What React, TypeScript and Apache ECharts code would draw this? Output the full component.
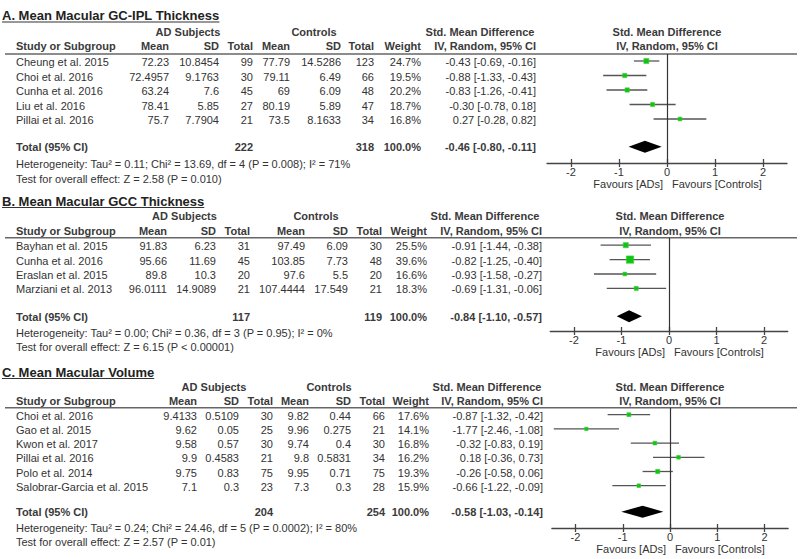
import React, { useEffect, useRef } from "react";
import * as echarts from "echarts";

// ---------- DATA ----------
const tickValues = [-2, -1, 0, 1, 2];
const favourLabels = ["Favours [ADs]", "Favours [Controls]"];

// Panel A
const titleA = "A. Mean Macular GC-IPL Thickness";
const studiesA = ["Cheung et al. 2015", "Choi et al. 2016", "Cunha et al. 2016", "Liu et al. 2016", "Pillai et al. 2016"];
const adMeanA = [72.23, 72.4957, 63.24, 78.41, 75.7];
const adSdA = [10.8454, 9.1763, 7.6, 5.85, 7.7904];
const adNA = [99, 30, 45, 27, 21];
const ctMeanA = [77.79, 79.11, 69, 80.19, 73.5];
const ctSdA = [14.5286, 6.49, 6.09, 5.89, 8.1633];
const ctNA = [123, 66, 48, 47, 34];
const weightA = [24.7, 19.5, 20.2, 18.7, 16.8];
const smdA = [-0.43, -0.88, -0.83, -0.3, 0.27];
const loA = [-0.69, -1.33, -1.26, -0.78, -0.28];
const hiA = [-0.16, -0.43, -0.41, 0.18, 0.82];
const totalNA = [222, 318];
const pooledA = [-0.46, -0.8, -0.11];
const hetA = "Heterogeneity: Tau² = 0.11; Chi² = 13.69, df = 4 (P = 0.008); I² = 71%";
const testA = "Test for overall effect: Z = 2.58 (P = 0.010)";

// Panel B
const titleB = "B. Mean Macular GCC Thickness";
const studiesB = ["Bayhan et al. 2015", "Cunha et al. 2016", "Eraslan et al. 2015", "Marziani et al. 2013"];
const adMeanB = [91.83, 95.66, 89.8, 96.0111];
const adSdB = [6.23, 11.69, 10.3, 14.9089];
const adNB = [31, 45, 20, 21];
const ctMeanB = [97.49, 103.85, 97.6, 107.4444];
const ctSdB = [6.09, 7.73, 5.5, 17.549];
const ctNB = [30, 48, 20, 21];
const weightB = [25.5, 39.6, 16.6, 18.3];
const smdB = [-0.91, -0.82, -0.93, -0.69];
const loB = [-1.44, -1.25, -1.58, -1.31];
const hiB = [-0.38, -0.4, -0.27, -0.06];
const totalNB = [117, 119];
const pooledB = [-0.84, -1.1, -0.57];
const hetB = "Heterogeneity: Tau² = 0.00; Chi² = 0.36, df = 3 (P = 0.95); I² = 0%";
const testB = "Test for overall effect: Z = 6.15 (P < 0.00001)";

// Panel C
const titleC = "C. Mean Macular Volume";
const studiesC = ["Choi et al. 2016", "Gao et al. 2015", "Kwon et al. 2017", "Pillai et al. 2016", "Polo et al. 2014", "Salobrar-Garcia et al. 2015"];
const adMeanC = [9.4133, 9.62, 9.58, 9.9, 9.75, 7.1];
const adSdC = [0.5109, 0.05, 0.57, 0.4583, 0.83, 0.3];
const adNC = [30, 25, 30, 21, 75, 23];
const ctMeanC = [9.82, 9.96, 9.74, 9.8, 9.95, 7.3];
const ctSdC = [0.44, 0.275, 0.4, 0.5831, 0.71, 0.3];
const ctNC = [66, 21, 30, 34, 75, 28];
const weightC = [17.6, 14.1, 16.8, 16.2, 19.3, 15.9];
const smdC = [-0.87, -1.77, -0.32, 0.18, -0.26, -0.66];
const loC = [-1.32, -2.46, -0.83, -0.36, -0.58, -1.22];
const hiC = [-0.42, -1.08, 0.19, 0.73, 0.06, -0.09];
const totalNC = [204, 254];
const pooledC = [-0.58, -1.03, -0.14];
const hetC = "Heterogeneity: Tau² = 0.24; Chi² = 24.46, df = 5 (P = 0.0002); I² = 80%";
const testC = "Test for overall effect: Z = 2.57 (P = 0.01)";

const panels = [
  { title: titleA, studies: studiesA, adMean: adMeanA, adSd: adSdA, adN: adNA, ctMean: ctMeanA, ctSd: ctSdA, ctN: ctNA, weight: weightA, smd: smdA, lo: loA, hi: hiA, totalN: totalNA, pooled: pooledA, het: hetA, test: testA },
  { title: titleB, studies: studiesB, adMean: adMeanB, adSd: adSdB, adN: adNB, ctMean: ctMeanB, ctSd: ctSdB, ctN: ctNB, weight: weightB, smd: smdB, lo: loB, hi: hiB, totalN: totalNB, pooled: pooledB, het: hetB, test: testB },
  { title: titleC, studies: studiesC, adMean: adMeanC, adSd: adSdC, adN: adNC, ctMean: ctMeanC, ctSd: ctSdC, ctN: ctNC, weight: weightC, smd: smdC, lo: loC, hi: hiC, totalN: totalNC, pooled: pooledC, het: hetC, test: testC },
];

// ---------- LAYOUT ----------
const layouts = [
  { titleY: 15.5, h1: 32, h2: 46, lineY: 54, r0: 61, dr: 14.5, totalY: 146.7, hetY: 164, testY: 179, axisY: 163, x0: 667, unit: 48, cols: [169, 219, 253, 290, 341, 374, 421, 536], adC: 188, ctC: 314, smdC: 480, plotC: 667 },
  { titleY: 201, h1: 216, h2: 230.7, lineY: 237.7, r0: 245.2, dr: 14.4, totalY: 316.3, hetY: 332.7, testY: 346.7, axisY: 331, x0: 669, unit: 47.5, cols: [167, 216, 250, 305, 348, 382, 427, 542], adC: 184.5, ctC: 316, smdC: 485, plotC: 670 },
  { titleY: 372, h1: 387, h2: 400.7, lineY: 407.7, r0: 414.7, dr: 14.2, totalY: 511.7, hetY: 528.3, testY: 542.3, axisY: 528, x0: 670, unit: 47.25, cols: [197, 239, 273, 309, 351, 385, 429, 543], adC: 214, ctC: 329, smdC: 487, plotC: 670 },
];

const FONT = 'Arial, "Liberation Sans", sans-serif';
const TXT = "#333";
const HDR = "#3a3a3a";

function measure(text: string, font: string): number {
  const c = document.createElement("canvas").getContext("2d");
  if (!c) return text.length * 7;
  c.font = font;
  return c.measureText(text).width;
}

function txt(x: number, y: number, text: string, align: string, bold = false, size = 11, fill = TXT) {
  return {
    type: "text",
    x,
    y,
    silent: true,
    style: { text, fill, fontSize: size, fontFamily: FONT, fontWeight: bold ? "bold" : "normal", align, verticalAlign: "middle" },
  };
}

function ciText(e: number, l: number, h: number) {
  return `${e.toFixed(2)} [${l.toFixed(2)}, ${h.toFixed(2)}]`;
}

function buildOption() {
  const grid: any[] = [];
  const xAxis: any[] = [];
  const yAxis: any[] = [];
  const series: any[] = [];
  const graphic: any[] = [];

  panels.forEach((p, k) => {
    const L = layouts[k];
    const rowVal = (i: number) => (L.r0 - L.lineY) / L.dr + i;
    const totalVal = (L.totalY - L.lineY) / L.dr;
    grid.push({ left: L.x0 - 2.5 * L.unit, top: L.lineY, width: 5 * L.unit, height: L.axisY - L.lineY });
    const tickStyle = { color: "#444", width: 1.3 };
    xAxis.push({
      gridIndex: k, type: "value", min: -2.5, max: 2.5, position: "bottom",
      axisLine: { show: true, onZero: false, lineStyle: tickStyle },
      axisTick: { show: true, customValues: tickValues, length: 4, lineStyle: tickStyle },
      axisLabel: { show: true, customValues: tickValues, margin: 3, color: TXT, fontSize: 11, fontFamily: FONT },
      splitLine: { show: false },
    });
    xAxis.push({
      gridIndex: k, type: "value", min: -2.5, max: 2.5, position: "bottom",
      axisLine: { show: false, onZero: false },
      axisTick: { show: true, inside: true, customValues: tickValues, length: 4, lineStyle: tickStyle },
      axisLabel: { show: false },
      splitLine: { show: false },
    });
    yAxis.push({ gridIndex: k, type: "value", min: 0, max: (L.axisY - L.lineY) / L.dr, inverse: true, show: false });

    series.push({
      type: "custom",
      xAxisIndex: 2 * k,
      yAxisIndex: k,
      silent: true,
      encode: { x: [0, 1, 2], y: 4 },
      data: p.studies.map((_, i) => [p.smd[i], p.lo[i], p.hi[i], p.weight[i], rowVal(i)]),
      renderItem: (params: any, api: any) => {
        const est = api.value(0), lo = api.value(1), hi = api.value(2), w = api.value(3), row = api.value(4);
        const a = api.coord([lo, row]);
        const b = api.coord([hi, row]);
        const c = api.coord([est, row]);
        const s = 0.155 * w + 1.2;
        return {
          type: "group",
          children: [
            { type: "line", shape: { x1: a[0], y1: a[1], x2: b[0], y2: b[1] }, style: { stroke: "#555", lineWidth: 1.3 } },
            { type: "rect", shape: { x: c[0] - s / 2, y: c[1] - s / 2, width: s, height: s }, style: { fill: "#12c412", stroke: "#3ad23a", lineWidth: 0.6 } },
          ],
        };
      },
      z: 3,
    });

    series.push({
      type: "custom",
      xAxisIndex: 2 * k,
      yAxisIndex: k,
      silent: true,
      encode: { x: [0, 1, 2], y: 3 },
      data: [[p.pooled[0], p.pooled[1], p.pooled[2], totalVal]],
      renderItem: (params: any, api: any) => {
        const row = api.value(3);
        const c = api.coord([api.value(0), row]);
        const a = api.coord([api.value(1), row]);
        const b = api.coord([api.value(2), row]);
        const h = 6;
        return {
          type: "polygon",
          shape: { points: [[a[0], a[1]], [c[0], c[1] - h], [b[0], b[1]], [c[0], c[1] + h]] },
          style: { fill: "#000" },
        };
      },
      markLine: {
        silent: true,
        symbol: "none",
        label: { show: false },
        lineStyle: { color: "#333", width: 1.2, type: "solid" },
        data: [{ xAxis: 0 }],
      },
      z: 3,
    });

    // ----- text table -----
    const titleFont = `bold 13px ${FONT}`;
    graphic.push(txt(2, L.titleY, p.title, "left", true, 13, "#222"));
    const tw = measure(p.title, titleFont);
    graphic.push({ type: "line", silent: true, shape: { x1: 2, y1: L.titleY + 6.5, x2: 2 + tw, y2: L.titleY + 6.5 }, style: { stroke: "#333", lineWidth: 1.2 } });

    graphic.push(txt(L.adC, L.h1, "AD Subjects", "center", true, 11, HDR));
    graphic.push(txt(L.ctC, L.h1, "Controls", "center", true, 11, HDR));
    graphic.push(txt(L.smdC, L.h1, "Std. Mean Difference", "center", true, 11, HDR));
    graphic.push(txt(L.plotC, L.h1, "Std. Mean Difference", "center", true, 11, HDR));

    const C = L.cols;
    graphic.push(txt(16, L.h2, "Study or Subgroup", "left", true, 11, HDR));
    ["Mean", "SD", "Total", "Mean", "SD", "Total", "Weight", "IV, Random, 95% CI"].forEach((h, j) => {
      graphic.push(txt(C[j], L.h2, h, "right", true, 11, HDR));
    });
    graphic.push(txt(L.plotC, L.h2, "IV, Random, 95% CI", "center", true, 11, HDR));
    graphic.push({ type: "line", silent: true, shape: { x1: 5, y1: L.lineY, x2: 797, y2: L.lineY }, style: { stroke: "#666", lineWidth: 1.5 } });

    p.studies.forEach((s, i) => {
      const y = L.r0 + i * L.dr + 1;
      graphic.push(txt(16, y, s, "left"));
      const cells = [
        String(p.adMean[i]), String(p.adSd[i]), String(p.adN[i]),
        String(p.ctMean[i]), String(p.ctSd[i]), String(p.ctN[i]),
        p.weight[i].toFixed(1) + "%", ciText(p.smd[i], p.lo[i], p.hi[i]),
      ];
      cells.forEach((v, j) => graphic.push(txt(C[j], y, v, "right")));
    });

    const ty = L.totalY + 0.5;
    graphic.push(txt(16, ty, "Total (95% CI)", "left", true, 11, HDR));
    graphic.push(txt(C[2], ty, String(p.totalN[0]), "right", true, 11, HDR));
    graphic.push(txt(C[5], ty, String(p.totalN[1]), "right", true, 11, HDR));
    graphic.push(txt(C[6], ty, (100).toFixed(1) + "%", "right", true, 11, HDR));
    graphic.push(txt(C[7], ty, ciText(p.pooled[0], p.pooled[1], p.pooled[2]), "right", true, 11, HDR));
    graphic.push(txt(16, L.hetY, p.het, "left"));
    graphic.push(txt(16, L.testY, p.test, "left"));

    const favY = L.axisY + 21;
    graphic.push(txt(L.x0 - 4, favY, favourLabels[0], "right"));
    graphic.push(txt(L.x0 + 5, favY, favourLabels[1], "left"));
  });

  return {
    animation: false,
    backgroundColor: "#fff",
    grid,
    xAxis,
    yAxis,
    series,
    graphic,
  };
}

export default function App() {
  const ref = useRef<HTMLDivElement>(null);
  useEffect(() => {
    if (!ref.current) return;
    const chart = echarts.init(ref.current, null, { renderer: "svg" });
    chart.setOption(buildOption() as any);
    return () => chart.dispose();
  }, []);
  return <div ref={ref} style={{ position: "absolute", left: 0, top: 0, width: 800, height: 559, background: "#fff" }} />;
}
